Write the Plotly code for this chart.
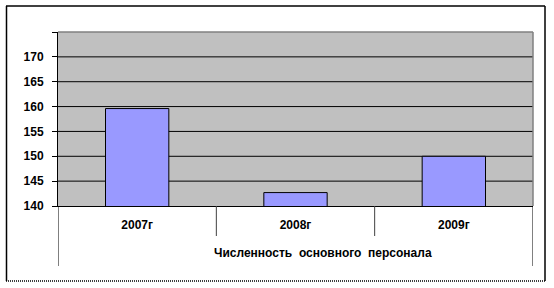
import plotly.graph_objects as go

categories = ["2007г", "2008г", "2009г"]
values = [159.6, 142.7, 150.0]
y_ticks = [140, 145, 150, 155, 160, 165, 170, 175]
y_tick_labels = ["140", "145", "150", "155", "160", "165", "170", ""]
axis_title = "Численность\u00a0\u00a0основного\u00a0\u00a0персонала"

W, H = 554, 288
L, R, T, B = 58, 21, 32, 82
pw, ph = W - L - R, H - T - B

def px(x):
    return (x - L) / pw

def py(y):
    return (H - B - y) / ph

FONT = "Liberation Sans, Arial, sans-serif"

fig = go.Figure()
fig.add_trace(go.Bar(
    x=categories, y=values, width=0.4,
    marker=dict(color="#9999FF", line=dict(color="black", width=1)),
))

shapes = []
# gridlines
for v in y_ticks[1:-1]:
    shapes.append(dict(type="line", xref="paper", yref="y", x0=0, x1=1, y0=v, y1=v,
                       line=dict(color="black", width=1), layer="below"))
# plot area top and right borders (gray)
shapes.append(dict(type="line", xref="paper", yref="paper", x0=0, x1=1, y0=1, y1=1,
                   line=dict(color="#808080", width=1.5)))
shapes.append(dict(type="line", xref="paper", yref="paper", x0=1, x1=1, y0=0, y1=1,
                   line=dict(color="#808080", width=1.5)))
# category dividers below axis
for i in range(len(categories) + 1):
    xb = i - 0.5
    outer = i in (0, len(categories))
    shapes.append(dict(type="line", xref="x", yref="paper", x0=xb, x1=xb,
                       y0=0, y1=py(266) if outer else py(236),
                       line=dict(color="black" if outer else "#404040", width=1)))
# outer frame
shapes.append(dict(type="line", xref="paper", yref="paper", x0=px(6), x1=px(545), y0=py(6), y1=py(6),
                   line=dict(color="black", width=1.5)))
shapes.append(dict(type="line", xref="paper", yref="paper", x0=px(6.5), x1=px(6.5), y0=py(6), y1=py(281),
                   line=dict(color="black", width=1.5)))
shapes.append(dict(type="line", xref="paper", yref="paper", x0=px(545), x1=px(545), y0=py(6), y1=py(281),
                   line=dict(color="black", width=1.5)))
shapes.append(dict(type="line", xref="paper", yref="paper", x0=px(6), x1=px(545), y0=py(281), y1=py(281),
                   line=dict(color="black", width=1.5, dash="1px,1px")))

fig.update_layout(
    width=W, height=H,
    margin=dict(l=L, r=R, t=T, b=B),
    paper_bgcolor="white",
    plot_bgcolor="#C0C0C0",
    showlegend=False,
    bargap=0.6,
    shapes=shapes,
    font=dict(family=FONT, size=12, color="black"),
    xaxis=dict(
        type="category", showgrid=False, showline=True, linecolor="black", linewidth=1,
        ticks="", ticklabelstandoff=8,
        tickfont=dict(family=FONT, size=12, color="black", weight="bold"),
        range=[-0.5, 2.5], fixedrange=True,
    ),
    yaxis=dict(
        range=[140, 175], tickvals=y_ticks, ticktext=y_tick_labels,
        showgrid=False, zeroline=False, showline=True, linecolor="black", linewidth=1,
        ticks="outside", ticklen=5, tickcolor="black", tickwidth=1,
        ticklabelstandoff=6,
        tickfont=dict(family=FONT, size=12, color="black", weight="bold"),
        fixedrange=True,
    ),
    annotations=[dict(
        text=axis_title, xref="paper", yref="paper", x=px(323), y=py(253),
        xanchor="center", yanchor="middle", showarrow=False,
        font=dict(family=FONT, size=12, color="black", weight="bold"),
    )],
)

fig.write_html("out.html")
